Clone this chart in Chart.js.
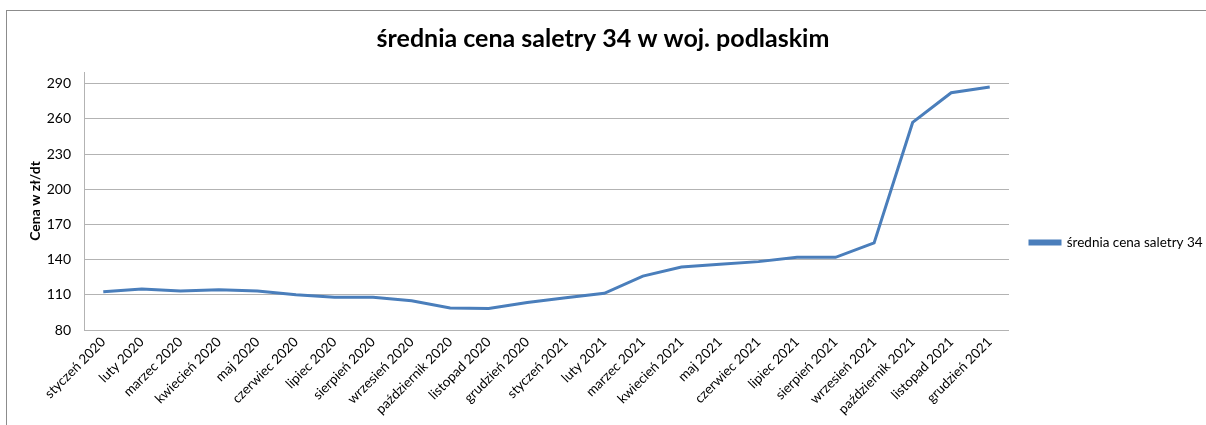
<!DOCTYPE html>
<html>
<head>
<meta charset="utf-8">
<script src="https://cdn.jsdelivr.net/npm/chart.js@4/dist/chart.umd.min.js"></script>
<style>
  html, body { margin: 0; padding: 0; background: #fff; overflow: hidden; }
  #wrap { position: relative; width: 1206px; height: 425px; }
  #frame { position: absolute; left: 6px; top: 10px; width: 1300px; height: 600px; border-top: 1px solid #8c8c8c; border-left: 1px solid #8c8c8c; }
  canvas { position: absolute; left: 0; top: 0; }
</style>
</head>
<body>
<div id="wrap">
  <div id="frame"></div>
  <canvas id="c" width="1206" height="425"></canvas>
</div>
<script>
const categories = [
  "styczeń 2020","luty 2020","marzec 2020","kwiecień 2020","maj 2020","czerwiec 2020",
  "lipiec 2020","sierpień 2020","wrzesień 2020","październik 2020","listopad 2020","grudzień 2020",
  "styczeń 2021","luty 2021","marzec 2021","kwiecień 2021","maj 2021","czerwiec 2021",
  "lipiec 2021","sierpień 2021","wrzesień 2021","październik 2021","listopad 2021","grudzień 2021"
];
const seriesName = "średnia cena saletry 34";
const prices = [
  112.7, 115, 113.3, 114.4, 113.3, 110,
  108, 108, 105, 98.8, 98.3, 103.5,
  107.5, 111.3, 126, 133.7, 136, 138.3,
  142, 142, 154.3, 257, 282.3, 287.2
];
const yTicks = [80, 110, 140, 170, 200, 230, 260, 290];
const chartTitle = "średnia cena saletry 34 w woj. podlaskim";
const yTitle = "Cena w zł/dt";

const FONT = "Lato, 'Open Sans', sans-serif";
const blue = "#4a7ebb";

const legendTweak = {
  id: 'legendTweak',
  afterInit(chart) {
    const leg = chart.legend;
    if (!leg) return;
    const orig = leg.fit;
    leg.fit = function () { orig.call(this); this.width = 197; };
  },
  afterLayout(chart) {
    const leg = chart.legend;
    if (!leg) return;
    leg.top += 30; leg.bottom += 30;
  }
};

new Chart(document.getElementById('c'), {
  type: 'line',
  data: {
    labels: categories,
    datasets: [{
      label: seriesName,
      data: prices,
      borderColor: blue,
      backgroundColor: blue,
      borderWidth: 3,
      pointRadius: 0,
      tension: 0,
      fill: false
    }]
  },
  options: {
    responsive: false,
    animation: false,
    layout: { padding: { left: 0, right: 0, top: 0, bottom: 0 } },
    plugins: {
      title: {
        display: true,
        text: chartTitle,
        color: '#000',
        font: { family: FONT, size: 25, weight: 'bold' },
        padding: { top: 24, bottom: 18 }
      },
      legend: {
        display: true,
        position: 'right',
        align: 'center',
        labels: {
          boxWidth: 30,
          boxHeight: 3,
          padding: 21,
          color: '#000',
          font: { family: FONT, size: 13.5 }
        }
      },
      tooltip: { enabled: false }
    },
    scales: {
      x: {
        type: 'category',
        offset: true,
        grid: { display: false, drawTicks: false },
        border: { display: false },
        ticks: {
          color: '#000',
          font: { family: FONT, size: 13.5 },
          maxRotation: 45,
          minRotation: 45,
          autoSkip: false,
          padding: 4
        },
        afterFit(s) { s.height = 95; }
      },
      y: {
        min: 80,
        max: 300,
        grid: { color: '#b3b3b3', lineWidth: 1, drawTicks: false },
        border: { display: true, color: '#b3b3b3', width: 1 },
        ticks: {
          stepSize: 30,
          color: '#000',
          font: { family: FONT, size: 14 },
          padding: 13
        },
        afterBuildTicks(s) { s.ticks = yTicks.map(v => ({ value: v })); },
        title: {
          display: true,
          text: yTitle,
          color: '#000',
          font: { family: FONT, size: 14, weight: 'bold' },
          padding: { top: 27, bottom: 0 }
        },
        afterFit(s) { s.width = 84; }
      }
    }
  },
  plugins: [legendTweak]
});
</script>
</body>
</html>
